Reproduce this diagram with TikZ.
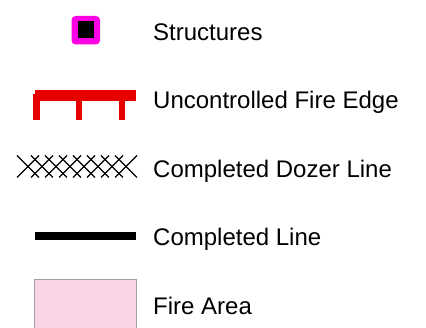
\documentclass[tikz,border=0pt]{standalone}
\usepackage{fontspec}
\setmainfont{Liberation Sans}
\definecolor{fireRed}{RGB}{230,0,0}
\definecolor{structMag}{RGB}{255,0,230}
\definecolor{areaPink}{RGB}{247,213,229}
\definecolor{areaEdge}{RGB}{160,160,160}
\begin{document}
\begin{tikzpicture}[x=1pt,y=-1pt,
  lbl/.style={anchor=base west, inner sep=0pt, font=\fontsize{24}{28}\selectfont},
  dozer/.style={black, line width=1.2pt},
  redsym/.style={fill=fireRed}]
\useasboundingbox (0,0) rectangle (426,328);
\fill[white] (0,0) rectangle (426,328);
% Structures
\fill[structMag, rounded corners=4pt] (71.5,16) rectangle (100,44.5);
\fill[black] (77.5,21.5) rectangle (93.5,38.5);
\node[lbl] (t1) at (153,40.7) {Structures};
% Uncontrolled fire edge
\fill[redsym] (35,90) rectangle (136,101);
\fill[redsym] (33,94) rectangle (39.5,120);
\fill[redsym] (76,100) rectangle (81.5,120);
\fill[redsym] (119,100) rectangle (124.5,120);
\node[lbl] (t2) at (153,108.9) {Uncontrolled Fire Edge};
% Completed dozer line
\foreach \k in {0,...,7} {
  \draw[dozer] (17+14*\k,177.5) -- (39+14*\k,155.5);
  \draw[dozer] (17+14*\k,155.5) -- (39+14*\k,177.5);
}
\node[lbl] (t3) at (153,177.3) {Completed Dozer Line};
% Completed line
\fill[black] (35,232.5) rectangle (136,240.5);
\node[lbl] (t4) at (153,245.8) {Completed Line};
% Fire area
\filldraw[fill=areaPink, draw=areaEdge, line width=1.5pt] (34.5,279.5) rectangle (136.5,335);
\node[lbl] (t5) at (153,314.3) {Fire Area};
\end{tikzpicture}
\end{document}
